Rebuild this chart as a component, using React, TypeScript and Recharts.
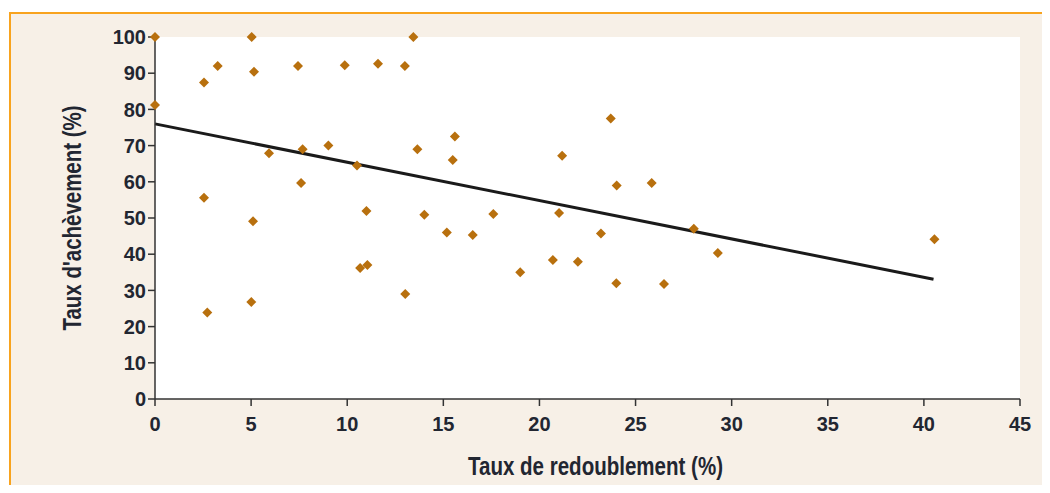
import {
  ReferenceArea,
  ReferenceLine,
  Scatter,
  ScatterChart,
  XAxis,
  YAxis,
} from 'recharts'

// taux de redoublement (%) per country
const repetition = [
  0, 0, 2.55, 3.26, 5.03, 5.15, 7.44, 9.87, 11.6, 13.0, 13.44, 5.93, 7.68, 9.02, 10.51,
  7.6, 15.6, 15.49, 13.65, 23.71, 21.18, 24.02, 25.84, 14.01, 17.6, 21.02, 15.18, 16.53,
  23.2, 28.03, 29.28, 19.0, 20.7, 22.0, 24.0, 26.48, 13.02, 2.55, 5.1, 11.0, 10.67, 11.05,
  2.72, 5.01, 40.55,
]
// taux d'achèvement (%) per country
const completion = [
  100, 81.2, 87.4, 92.0, 100, 90.4, 92.0, 92.2, 92.6, 92.0, 100, 67.9, 69.0, 70.0, 64.5,
  59.7, 72.5, 66.0, 69.0, 77.5, 67.2, 59.0, 59.7, 50.9, 51.1, 51.4, 46.0, 45.3, 45.7, 47.0,
  40.3, 35.0, 38.4, 37.9, 32.0, 31.8, 29.0, 55.6, 49.1, 51.9, 36.2, 37.0, 23.9, 26.8, 44.1,
]
// fitted trend line end points
const trendX = [0, 40.5]
const trendY = [76.0, 33.1]

const xTicks = [0, 5, 10, 15, 20, 25, 30, 35, 40, 45]
const yTicks = [0, 10, 20, 30, 40, 50, 60, 70, 80, 90, 100]

const xTitle = 'Taux de redoublement (%)'
const yTitle = "Taux d'achèvement (%)"

const points = repetition.map((x, i) => ({ x, y: completion[i] }))

const FONT = '"Liberation Sans", Arial, sans-serif'
const INK = '#222631'
const DOT = '#b8700e'

function Diamond(props: { cx?: number; cy?: number }) {
  const { cx = 0, cy = 0 } = props
  const r = 5
  return (
    <polygon
      points={`${cx},${cy - r} ${cx + r},${cy} ${cx},${cy + r} ${cx - r},${cy}`}
      fill={DOT}
    />
  )
}

// condensed-looking axis titles: squeeze the text to the reference length
function XTitle(props: any) {
  const { x, y, width, height } = props.viewBox
  return (
    <text
      x={x + width / 2 + 8}
      y={y + height + 22}
      textAnchor="middle"
      fontSize={25}
      fontWeight={700}
      fontFamily={FONT}
      fill={INK}
      textLength={255}
      lengthAdjust="spacingAndGlyphs"
    >
      {xTitle}
    </text>
  )
}

function YTitle(props: any) {
  const { x, y, height } = props.viewBox
  const cx = x + 16
  const cy = y + height / 2
  return (
    <text
      x={cx}
      y={cy}
      transform={`rotate(-90, ${cx}, ${cy})`}
      textAnchor="middle"
      fontSize={25}
      fontWeight={700}
      fontFamily={FONT}
      fill={INK}
      textLength={225}
      lengthAdjust="spacingAndGlyphs"
    >
      {yTitle}
    </text>
  )
}

export default function App() {
  const tick = { fontSize: 20, fill: INK, fontFamily: FONT, fontWeight: 700 }
  return (
    <div style={{ position: 'relative', margin: -8, width: 1050, height: 493, background: '#fff', overflow: 'hidden' }}>
      <div
        style={{
          position: 'absolute',
          left: 9,
          top: 12,
          width: 1060,
          height: 500,
          background: '#f7f0e7',
          borderTop: '2px solid #f8a31e',
          borderLeft: '2px solid #f8a31e',
          boxSizing: 'border-box',
        }}
      />
      <div style={{ position: 'absolute', left: 0, top: 0 }}>
        <ScatterChart
          width={1050}
          height={493}
          margin={{ top: 37, right: 30, bottom: 40, left: 65 }}
        >
          <XAxis
            type="number"
            dataKey="x"
            domain={[0, 45]}
            ticks={xTicks}
            interval={0}
            height={54}
            tick={tick}
            tickSize={7}
            tickMargin={11}
            axisLine={{ stroke: '#333', strokeWidth: 1.5 }}
            tickLine={{ stroke: '#333', strokeWidth: 1.5 }}
            label={<XTitle />}
          />
          <YAxis
            type="number"
            dataKey="y"
            domain={[0, 100]}
            ticks={yTicks}
            interval={0}
            width={90}
            tick={tick}
            tickSize={7}
            tickMargin={2}
            axisLine={{ stroke: '#333', strokeWidth: 1.5 }}
            tickLine={{ stroke: '#333', strokeWidth: 1.5 }}
            label={<YTitle />}
          />
          <ReferenceArea x1={0} x2={45} y1={0} y2={100} fill="#fff" fillOpacity={1} stroke="none" />
          <ReferenceLine
            segment={[
              { x: trendX[0], y: trendY[0] },
              { x: trendX[1], y: trendY[1] },
            ]}
            stroke="#1a1a1a"
            strokeWidth={3}
          />
          <Scatter data={points} shape={<Diamond />} isAnimationActive={false} />
        </ScatterChart>
      </div>
    </div>
  )
}
